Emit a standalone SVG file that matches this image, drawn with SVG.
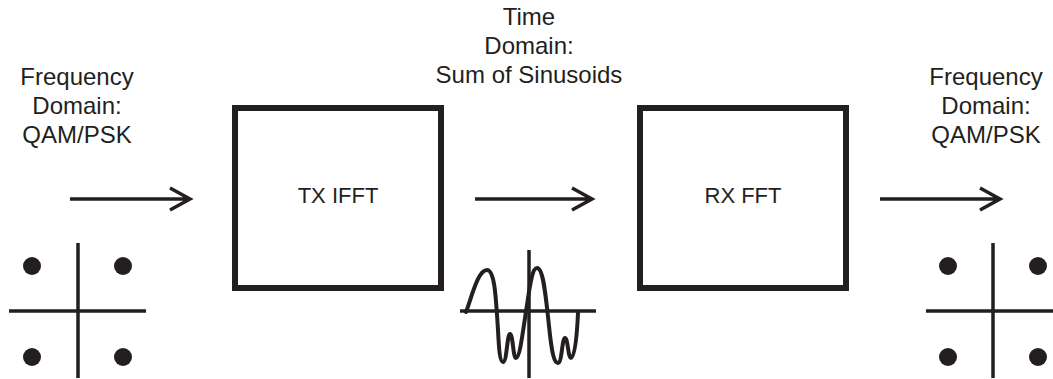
<svg xmlns="http://www.w3.org/2000/svg" width="1053" height="379" viewBox="0 0 1053 379">
<style>
  .t { font-family: "Liberation Sans", Arial, sans-serif; font-size: 24px; fill: #231f20; text-anchor: middle; }
  .bt { font-size: 22px; }
  .box { fill: #ffffff; stroke: #231f20; stroke-width: 6; }
  .ln { stroke: #231f20; stroke-width: 3.5; fill: none; }
  .dot { fill: #231f20; }
  .wave { stroke: #231f20; stroke-width: 4; fill: none; stroke-linejoin: round; stroke-linecap: round; }
</style>
<rect width="1053" height="379" fill="#ffffff"/>
<g id="label-freq-in">
  <text class="t" x="77" y="85">Frequency</text>
  <text class="t" x="77" y="114">Domain:</text>
  <text class="t" x="77" y="143">QAM/PSK</text>
</g>
<g id="label-time">
  <text class="t" x="529" y="25">Time</text>
  <text class="t" x="529" y="54">Domain:</text>
  <text class="t" x="529" y="83">Sum of Sinusoids</text>
</g>
<g id="label-freq-out">
  <text class="t" x="986" y="85">Frequency</text>
  <text class="t" x="986" y="114">Domain:</text>
  <text class="t" x="986" y="143">QAM/PSK</text>
</g>
<g id="tx-ifft">
  <rect class="box" x="235" y="108" width="206" height="180"/>
  <text class="t bt" x="338" y="203">TX IFFT</text>
</g>
<g id="rx-fft">
  <rect class="box" x="640" y="108" width="206" height="180"/>
  <text class="t bt" x="743" y="203">RX FFT</text>
</g>
<g id="connectors">
  <path class="ln" d="M70,199 H189 M170,188 L190,199 L170,210"/>
  <path class="ln" d="M475,199 H591 M572,188 L592,199 L572,210"/>
  <path class="ln" d="M880,199 H999 M980,188 L1000,199 L980,210"/>
</g>
<g id="constellation-in">
  <path class="ln" d="M78,243 V378 M9,311 H146"/>
  <circle class="dot" cx="32" cy="266" r="9"/>
  <circle class="dot" cx="123" cy="266" r="9"/>
  <circle class="dot" cx="32" cy="357" r="9"/>
  <circle class="dot" cx="123" cy="357" r="9"/>
</g>
<g id="waveform">
  <path class="ln" d="M529,250 V378 M460,311 H596"/>
  <path class="wave" d="M466,312 C472,296 478,270 487,270 C495,270 496,300 498,330 C499,350 500,362 503,362 C507,362 507,334 510,334 C513,334 513,358 516,358 C520,358 523,330 527,305 C530,285 532,268 537,268 C544,268 546,300 550,335 C552,352 554,363 558,363 C562,363 562,338 565,338 C568,338 568,358 571,358 C575,358 577,335 578,313"/>
</g>
<g id="constellation-out">
  <path class="ln" d="M993,243 V378 M926,311 H1053"/>
  <circle class="dot" cx="948" cy="266" r="9"/>
  <circle class="dot" cx="1038" cy="266" r="9"/>
  <circle class="dot" cx="948" cy="357" r="9"/>
  <circle class="dot" cx="1038" cy="357" r="9"/>
</g>
</svg>
